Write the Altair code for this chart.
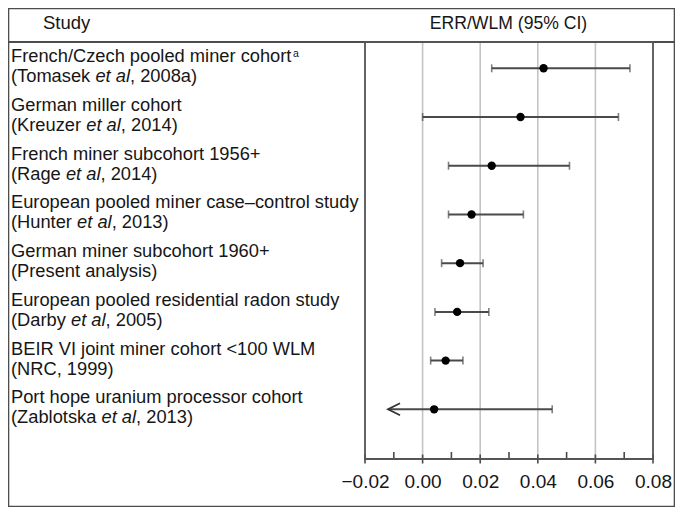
import altair as alt
import pandas as pd

# ---------------- data ----------------
studies = [
    "French/Czech pooled miner cohort",
    "German miller cohort",
    "French miner subcohort 1956+",
    "European pooled miner case\u2013control study",
    "German miner subcohort 1960+",
    "European pooled residential radon study",
    "BEIR VI joint miner cohort <100 WLM",
    "Port hope uranium processor cohort",
]
# "|" separates normal / italic / normal pieces
references = [
    "(Tomasek |et al|, 2008a)",
    "(Kreuzer |et al|, 2014)",
    "(Rage |et al|, 2014)",
    "(Hunter |et al|, 2013)",
    "(Present analysis)",
    "(Darby |et al|, 2005)",
    "(NRC, 1999)",
    "(Zablotska |et al|, 2013)",
]
superscripts = ["a", "", "", "", "", "", "", ""]
est = [0.042, 0.034, 0.024, 0.017, 0.013, 0.012, 0.008, 0.004]
lower = [0.024, 0.000, 0.009, 0.009, 0.0066, 0.0043, 0.0028, -0.012]
upper = [0.072, 0.068, 0.051, 0.035, 0.021, 0.023, 0.014, 0.045]
lower_open = [False, False, False, False, False, False, False, True]
major_ticks = [-0.02, 0.0, 0.02, 0.04, 0.06, 0.08]
minor_ticks = [-0.01, 0.01, 0.03, 0.05, 0.07]
gridlines = [0.0, 0.02, 0.04, 0.06]
header_left = "Study"
header_right = "ERR/WLM (95% CI)"

# ---------------- layout constants ----------------
FONT = "Liberation Sans"
FS = 18.3
W, H = 288, 417
TEXT_X = -354.0
INK = "#161616"
LINE = "#4a4a4a"
FRAME = "#4d4d4d"

# Arial / Liberation Sans advance widths (per 1000 em)
ARIAL = {" ": 278, "(": 333, ")": 333, "+": 584, ",": 278, "-": 333, ".": 278,
         "/": 278, "<": 584, "\u2013": 556,
         "A": 667, "B": 667, "C": 722, "D": 722, "E": 667, "F": 611, "G": 778,
         "H": 722, "I": 278, "J": 500, "K": 667, "L": 556, "M": 833, "N": 722,
         "O": 778, "P": 667, "Q": 778, "R": 722, "S": 667, "T": 611, "U": 722,
         "V": 667, "W": 944, "X": 667, "Y": 667, "Z": 611,
         "a": 556, "b": 556, "c": 500, "d": 556, "e": 556, "f": 278, "g": 556,
         "h": 556, "i": 222, "j": 222, "k": 500, "l": 222, "m": 833, "n": 556,
         "o": 556, "p": 556, "q": 556, "r": 333, "s": 500, "t": 278, "u": 556,
         "v": 500, "w": 722, "x": 500, "y": 500, "z": 500}
KERN = {"To": -111, "Ta": -111, "Te": -111}


def tw(s, fs):
    w = sum(ARIAL.get(c, 556) for c in s)
    w += sum(KERN.get(s[i:i + 2], 0) for i in range(len(s) - 1))
    return w * fs / 1000.0


rows = list(range(1, len(studies) + 1))
forest_df = pd.DataFrame({"row": rows, "est": est, "lo": lower, "hi": upper})

cap_rows, cap_vals = [], []
for r, lo, hi, op in zip(rows, lower, upper, lower_open):
    if not op:
        cap_rows.append(r); cap_vals.append(lo)
    cap_rows.append(r); cap_vals.append(hi)
caps_df = pd.DataFrame({"row": cap_rows, "v": cap_vals})
arrow_df = pd.DataFrame({"row": [r for r, op in zip(rows, lower_open) if op],
                         "v": [lo for lo, op in zip(lower, lower_open) if op]})

line1_df = pd.DataFrame({"row": rows, "text": studies, "xpx": [TEXT_X] * len(rows)})
sup_df = pd.DataFrame({
    "row": [r for r, s in zip(rows, superscripts) if s],
    "text": [s for s in superscripts if s],
    "xpx": [TEXT_X + tw(t, FS) + 1.2 for t, s in zip(studies, superscripts) if s],
})
seg = []
for r, ref in zip(rows, references):
    x = TEXT_X
    for j, piece in enumerate(ref.split("|")):
        if piece:
            seg.append({"row": r, "text": piece, "xpx": x, "italic": j % 2 == 1})
        x += tw(piece, FS)
seg_df = pd.DataFrame(seg)
norm_df = seg_df[~seg_df["italic"]].drop(columns="italic")
ital_df = seg_df[seg_df["italic"]].drop(columns="italic")

header_df = pd.DataFrame({"text": [header_left, header_right],
                          "xpx": [-322.0, 143.5]})

major_df = pd.DataFrame({"v": major_ticks})
minor_df = pd.DataFrame({"v": minor_ticks})
grid_df = pd.DataFrame({"v": gridlines})
one_df = pd.DataFrame({"k": [0]})

# ---------------- scales ----------------
xscale = alt.Scale(domain=[-0.02, 0.08], nice=False, zero=False)
xaxis = alt.Axis(values=major_ticks, grid=False, ticks=False, domain=False,
                 title=None, labelFont=FONT, labelFontSize=19, labelColor=INK,
                 labelPadding=13, labelOverlap=False, labelFlush=False,
                 labelExpr="replace(format(datum.value, '.2f'), '-', '\u2212')")


def xenc(field):
    return alt.X(field, type="quantitative", scale=xscale, axis=xaxis)


yenc = alt.Y("row:Q", scale=alt.Scale(domain=[0.46, 9.02], reverse=True,
                                      nice=False, zero=False), axis=None)
tscale = alt.Scale(domain=[0, W], nice=False, zero=False)
tenc = alt.X("xpx:Q", scale=tscale, axis=None)

# ---------------- forest layers ----------------
grid = alt.Chart(grid_df).mark_rule(color="#c4c4c4", strokeWidth=1.6).encode(x=xenc("v"))
bars = alt.Chart(forest_df).mark_rule(color=LINE, strokeWidth=2).encode(
    x=xenc("lo"), x2="hi", y=yenc)
caps = alt.Chart(caps_df).mark_tick(orient="vertical", size=8, thickness=1.6,
                                    color=LINE).encode(x=xenc("v"), y=yenc)
arrow = alt.Chart(arrow_df).mark_point(shape="M2,-1L0,0L2,1", filled=False,
                                       size=144, strokeWidth=1.8, color="#333",
                                       opacity=1).encode(x=xenc("v"), y=yenc)
points = alt.Chart(forest_df).mark_circle(size=70, color="#000", opacity=1).encode(
    x=xenc("est"), y=yenc)
maj = alt.Chart(major_df).mark_rule(color=LINE, strokeWidth=1.6).encode(
    x=xenc("v"), y=alt.value(412.5), y2=alt.value(421.5))
mino = alt.Chart(minor_df).mark_rule(color=LINE, strokeWidth=1.6).encode(
    x=xenc("v"), y=alt.value(410), y2=alt.value(417))

forest = alt.layer(grid, bars, caps, arrow, points, maj, mino)

# ---------------- text / frame layers ----------------
t1 = alt.Chart(line1_df).mark_text(align="left", baseline="alphabetic", dy=-6,
                                   font=FONT, fontSize=FS, color=INK).encode(
    x=tenc, y=yenc, text="text:N")
tsup = alt.Chart(sup_df).mark_text(align="left", baseline="alphabetic", dy=-11,
                                   font=FONT, fontSize=10.5, color=INK).encode(
    x=tenc, y=yenc, text="text:N")
t2n = alt.Chart(norm_df).mark_text(align="left", baseline="alphabetic", dy=14,
                                   font=FONT, fontSize=FS, color=INK).encode(
    x=tenc, y=yenc, text="text:N")
t2i = alt.Chart(ital_df).mark_text(align="left", baseline="alphabetic", dy=14,
                                   font=FONT, fontSize=FS, fontStyle="italic",
                                   color=INK).encode(
    x=tenc, y=yenc, text="text:N")
hdr_l = alt.Chart(header_df.iloc[[0]]).mark_text(align="left", baseline="alphabetic",
                                                 font=FONT, fontSize=18.5, color=INK).encode(
    x=tenc, y=alt.value(-13.2), text="text:N")
hdr_r = alt.Chart(header_df.iloc[[1]]).mark_text(align="center", baseline="alphabetic",
                                                 font=FONT, fontSize=17.6, color=INK).encode(
    x=tenc, y=alt.value(-13.2), text="text:N")
frame = alt.Chart(one_df).mark_rect(fill="transparent", stroke=FRAME,
                                    strokeWidth=1.6).encode(
    x=alt.value(-356.5), x2=alt.value(309.5), y=alt.value(-33.5), y2=alt.value(464.5))
hline = alt.Chart(one_df).mark_rule(color=FRAME, strokeWidth=1.8).encode(
    x=alt.value(-356.5), x2=alt.value(309.5), y=alt.value(0))
panel = alt.Chart(one_df).mark_rect(fill="transparent", stroke="#555",
                                    strokeWidth=1.8).encode(
    x=alt.value(0), x2=alt.value(W), y=alt.value(0), y2=alt.value(H))

texts = alt.layer(frame, hline, panel, t1, tsup, t2n, t2i, hdr_l, hdr_r)

chart = alt.layer(forest, texts).resolve_scale(x="independent").properties(
    width=W, height=H,
    padding={"left": 357, "top": 34, "right": 22, "bottom": 48},
    autosize=alt.AutoSizeParams(type="none"),
).configure_view(stroke="transparent").configure(background="white")

chart.save("out.html", embed_options={"renderer": "svg", "actions": False})
